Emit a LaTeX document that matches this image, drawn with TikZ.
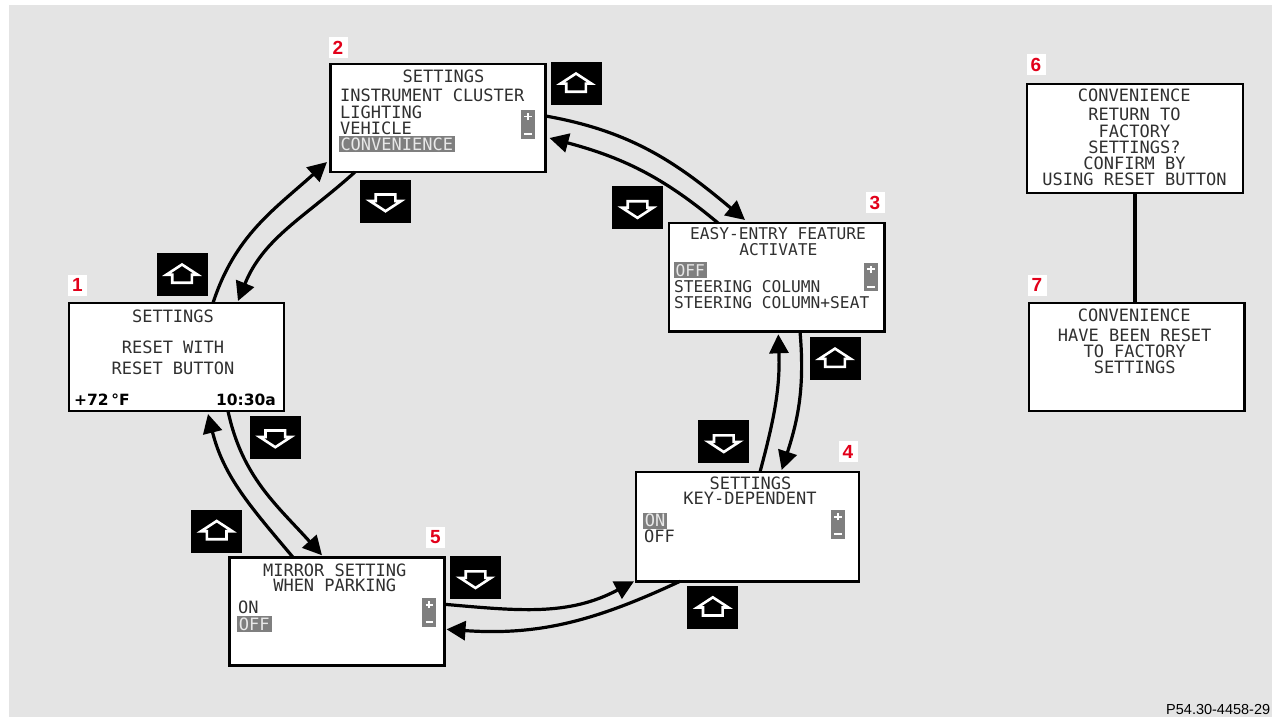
\documentclass[tikz,border=0pt]{standalone}
\usepackage{fontspec}
\setmainfont{Liberation Sans}
\newfontfamily\lcdfont{DejaVu Sans Mono}
\newfontfamily\djsans{DejaVu Sans}
\usetikzlibrary{arrows.meta,calc}
\definecolor{bg}{HTML}{E4E4E4}
\definecolor{lcdtext}{HTML}{303030}
\definecolor{hlfill}{HTML}{7F7F7F}
\definecolor{hltext}{HTML}{E8E8E8}
\definecolor{numred}{HTML}{E2001A}
\tikzset{
  screen/.style={draw=black, line width=2.4pt, fill=white, anchor=north west, inner sep=0pt, outer sep=0pt},
  lcd/.style={font=\lcdfont\fontsize{17}{17}\selectfont, text=lcdtext, inner sep=0pt},
  lcdn/.style={font=\lcdfont\fontsize{16.2}{16.2}\selectfont, text=lcdtext, inner sep=0pt},
  hl/.style={lcd, fill=hlfill, text=hltext, inner xsep=2pt, inner ysep=0pt, text height=14pt, text depth=2.2pt, anchor=base west},
  hln/.style={lcdn, fill=hlfill, text=hltext, inner xsep=2pt, inner ysep=0pt, text height=14pt, text depth=2.2pt, anchor=base west},
  lcdbold/.style={font=\djsans\bfseries\fontsize{15.5}{15.5}\selectfont, text=black, inner sep=0pt},
  icon/.style={fill=black, minimum width=51pt, minimum height=43pt, inner sep=0pt},
  iconarrow/.style={draw=white, line width=2.6pt, fill=black, line join=miter},
  scroll/.style={fill=hlfill, minimum width=14pt, minimum height=29pt, inner sep=0pt},
  sign/.style={draw=white, line width=1.8pt},
  numlab/.style={fill=white, text=numred, font=\bfseries\fontsize{19}{19}\selectfont, minimum width=19pt, minimum height=21pt, inner sep=0pt},
  conn/.style={draw=black, line width=3.2pt, -{Triangle[length=19pt,width=19pt]}},
  link/.style={draw=black, line width=3.3pt},
}
\newcommand\iconup[3]{%
  \node[icon] (#1) at (#2,#3) {};
  \draw[iconarrow] ($(#1.center)+(0,10.2)$) -- ++(-15.6,-10.2) -- ++(5.8,0) -- ++(0,-8) -- ++(19.6,0) -- ++(0,8) -- ++(5.8,0) -- cycle;}
\newcommand\icondown[3]{%
  \node[icon] (#1) at (#2,#3) {};
  \draw[iconarrow] ($(#1.center)+(0,-10.2)$) -- ++(-15.6,10.2) -- ++(5.8,0) -- ++(0,6.5) -- ++(19.6,0) -- ++(0,-6.5) -- ++(5.8,0) -- cycle;}
\newcommand\scrollbar[4]{%
  \node[scroll, minimum height=#4pt] (#1) at (#2,#3) {};
  \draw[sign] ($(#1.center)+(-3.6,7.8)$) -- ++(7.2,0) ($(#1.center)+(0,4.2)$) -- ++(0,7.2) ($(#1.center)+(-3.6,-9.6)$) -- ++(7.2,0);}
\begin{document}
\begin{tikzpicture}[x=1pt,y=1pt]
\useasboundingbox (0,0) rectangle (1272,-717);
\fill[bg] (9,-5) rectangle (1272,-717);

% screens
\node[screen, minimum width=215pt, minimum height=108pt] (b1) at (69,-303) {};
\node[screen, minimum width=215pt, minimum height=108pt] (b2) at (330.5,-64) {};
\node[screen, minimum width=215.5pt, minimum height=108.3pt] (b3) at (669,-223) {};
\node[screen, minimum width=222.7pt, minimum height=109.3pt] (b4) at (636,-472) {};
\node[screen, minimum width=215pt, minimum height=108.2pt] (b5) at (229.5,-557.3) {};
\node[screen, minimum width=216pt, minimum height=109pt] (b6) at (1027,-84) {};
\node[screen, minimum width=215.5pt, minimum height=108pt] (b7) at (1029,-303) {};

% numbers
\node[numlab] (n1) at (77.5,-285) {1};
\node[numlab] (n2) at (338,-47.5) {2};
\node[numlab] (n3) at (875,-202.5) {3};
\node[numlab] (n4) at (848,-451.5) {4};
\node[numlab] (n5) at (435.5,-537) {5};
\node[numlab] (n6) at (1036,-64.5) {6};
\node[numlab] (n7) at (1037,-285) {7};

% screen 1
\node[lcd, anchor=base] (t1a) at (173,-322) {SETTINGS};
\node[lcd, anchor=base] (t1b) at (173,-353) {RESET WITH};
\node[lcd, anchor=base] (t1c) at (173,-374) {RESET BUTTON};
\node[lcdbold, anchor=base west] (t1d) at (74,-405.5) {+72\,°F};
\node[lcdbold, anchor=base east] (t1e) at (276,-405.5) {10:30a};

% screen 2
\node[lcd, anchor=base] (t2a) at (443.5,-82) {SETTINGS};
\node[lcd, anchor=base west] (t2b) at (340,-102) {INSTRUMENT CLUSTER};
\node[lcd, anchor=base west] (t2c) at (340,-118) {LIGHTING};
\node[lcd, anchor=base west] (t2d) at (340,-134) {VEHICLE};
\node[hl] (t2e) at (338.3,-150) {CONVENIENCE};
\scrollbar{s2}{528}{-124.3}{29}

% screen 3
\node[lcdn, anchor=base] (t3a) at (778,-239) {EASY-ENTRY FEATURE};
\node[lcdn, anchor=base] (t3b) at (778.3,-255.7) {ACTIVATE};
\node[hln] (t3c) at (673.3,-276) {OFF};
\node[lcdn, anchor=base west] (t3d) at (674,-292.3) {STEERING COLUMN};
\node[lcdn, anchor=base west] (t3e) at (674,-308.3) {STEERING COLUMN+SEAT};
\scrollbar{s3}{871}{-277}{28}

% screen 4
\node[lcd, anchor=base] (t4a) at (750.5,-489) {SETTINGS};
\node[lcd, anchor=base] (t4b) at (750,-504) {KEY-DEPENDENT};
\node[hl] (t4c) at (642.7,-526.7) {ON};
\node[lcd, anchor=base west] (t4d) at (644,-542.3) {OFF};
\scrollbar{s4}{838}{-524.5}{29}

% screen 5
\node[lcd, anchor=base] (t5a) at (334.7,-576) {MIRROR SETTING};
\node[lcd, anchor=base] (t5b) at (334.7,-591.7) {WHEN PARKING};
\node[lcd, anchor=base west] (t5c) at (238,-613.3) {ON};
\node[hl] (t5d) at (236.7,-630) {OFF};
\scrollbar{s5}{429.2}{-612.5}{29}

% screen 6
\node[lcd, anchor=base] (t6a) at (1134.2,-101.7) {CONVENIENCE};
\node[lcd, anchor=base] (t6b) at (1134.5,-121) {RETURN TO};
\node[lcd, anchor=base] (t6c) at (1134.5,-137.3) {FACTORY};
\node[lcd, anchor=base] (t6d) at (1134.5,-153.3) {SETTINGS?};
\node[lcd, anchor=base] (t6e) at (1134.5,-169.3) {CONFIRM BY};
\node[lcd, anchor=base] (t6f) at (1134.5,-185) {USING RESET BUTTON};

% screen 7
\node[lcd, anchor=base] (t7a) at (1134.2,-321.7) {CONVENIENCE};
\node[lcd, anchor=base] (t7b) at (1134.7,-341) {HAVE BEEN RESET};
\node[lcd, anchor=base] (t7c) at (1134.7,-357.3) {TO FACTORY};
\node[lcd, anchor=base] (t7d) at (1134.7,-373.3) {SETTINGS};

% icons
\iconup{u1}{182}{-274.7}
\icondown{d1}{275.3}{-437}
\iconup{u2}{576}{-83.7}
\icondown{d2}{385.5}{-201}
\icondown{d3}{637.5}{-207.7}
\iconup{u3}{835}{-358.8}
\icondown{d4}{723.8}{-441.8}
\iconup{u4}{712.8}{-607.5}
\iconup{u5}{216.7}{-531.2}
\icondown{d5}{475.5}{-577.8}

% connectors around the loop
\draw[conn] ([xshift=144]b1.north west) to[out=72,in=222] ([xshift=-3.5,yshift=10]b2.south west);
\draw[conn] ([xshift=24.5]b2.south west) to[out=222,in=68] ([xshift=169,yshift=2]b1.north west);
\draw[conn] ([yshift=-52]b2.north east) to[out=-10,in=140] ([xshift=76,yshift=3]b3.north west);
\draw[conn] ([xshift=49]b3.north west) to[out=140,in=-15] ([xshift=4,yshift=-74]b2.north east);
\draw[conn] ([xshift=131]b3.south west) to[out=-85,in=72] ([xshift=145.7,yshift=2]b4.north west);
\draw[conn] ([xshift=124]b4.north west) to[out=75,in=-88] ([xshift=109.3,yshift=-3]b3.south west);
\draw[conn] ([xshift=44]b4.south west) to[out=205,in=-4] ([xshift=2,yshift=-72]b5.north east);
\draw[conn] ([yshift=-47]b5.north east) to[out=-5,in=208] ([xshift=-2]b4.south west);
\draw[conn] ([xshift=159]b1.south west) to[out=-78,in=132] ([xshift=92.5,yshift=2]b5.north west);
\draw[conn] ([xshift=63.5]b5.north west) to[out=130,in=-76] ([xshift=139,yshift=-3]b1.south west);

% link 6-7
\draw[link] (b6.south -| 1135,0) -- (b7.north -| 1135,0);

% footer
\node[anchor=base west, inner sep=0pt, font=\fontsize{14.5}{14.5}\selectfont] (foot) at (1166,-714) {P54.30-4458-29};
\end{tikzpicture}
\end{document}
